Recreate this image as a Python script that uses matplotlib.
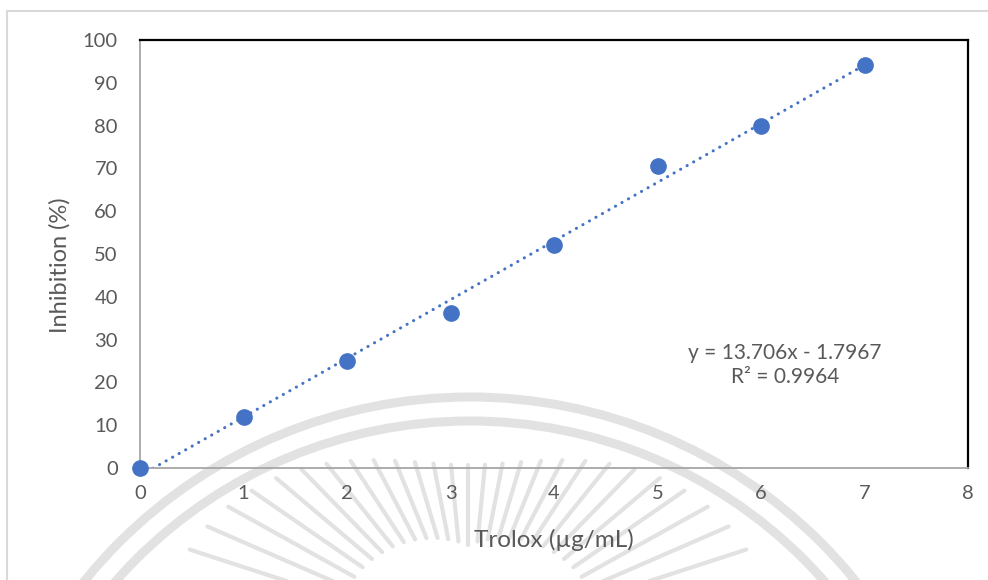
import numpy as np
import matplotlib
matplotlib.use("Agg")
import matplotlib.pyplot as plt
from matplotlib.patches import Arc
from matplotlib.lines import Line2D

# Trolox calibration data
concentration = [0, 1, 2, 3, 4, 5, 6, 7]          # µg/mL
inhibition = [0.0, 11.8, 25.0, 36.3, 52.1, 70.6, 79.9, 94.2]  # %

# Linear trendline coefficients as reported
slope = 13.706
intercept = -1.7967
r_squared = 0.9964

x_ticks = [0, 1, 2, 3, 4, 5, 6, 7, 8]
y_ticks = [0, 10, 20, 30, 40, 50, 60, 70, 80, 90, 100]

BLUE = "#4472C4"
TEXT = "#595959"
FONT = "Lato"

W, H = 988, 580
fig = plt.figure(figsize=(W / 100, H / 100), dpi=100)
fig.patch.set_facecolor("white")

# Faint seal watermark behind the chart (pixel coordinates)
bg = fig.add_axes([0, 0, 1, 1], zorder=0)
bg.set_xlim(0, W)
bg.set_ylim(H, 0)
bg.axis("off")
wm = "#e2e2e2"
for r in (496, 472):
    bg.add_patch(Arc((470, 893), 2 * r, 2 * r, theta1=180, theta2=360,
                     color=wm, lw=6.5))
cx, cy = 468, 640
for ang in np.linspace(18, 162, 27):
    a = np.deg2rad(ang)
    side = abs(np.cos(a))
    r1 = 95 + 40 * side
    r2 = 175 + 130 * side ** 2
    bg.plot([cx + r1 * np.cos(a), cx + r2 * np.cos(a)],
            [cy - r1 * np.sin(a), cy - r2 * np.sin(a)],
            color=wm, lw=3, solid_capstyle="round")

# Outer chart-area border
fig.add_artist(Line2D([7 / W, 7 / W], [0, 1 - 11 / H], transform=fig.transFigure,
                      color="#d9d9d9", lw=1.5))
fig.add_artist(Line2D([7 / W, 1], [1 - 11 / H, 1 - 11 / H], transform=fig.transFigure,
                      color="#d9d9d9", lw=1.5))

ax = fig.add_axes([140 / W, 1 - 468 / H, (968 - 140) / W, (468 - 40) / H], zorder=1)
ax.set_facecolor("none")

# Trendline
xt = np.array([concentration[0], concentration[-1]], dtype=float)
ax.plot(xt, slope * xt + intercept, color=BLUE, lw=2.2,
        linestyle=(0, (0.05, 2.4)), dash_capstyle="round", zorder=2)

# Data points
ax.plot(concentration, inhibition, "o", color=BLUE, ms=11, mec=BLUE, zorder=3,
        clip_on=False)

ax.set_xlim(0, 8)
ax.set_ylim(0, 100)
ax.set_xticks(x_ticks)
ax.set_yticks(y_ticks)
ax.tick_params(length=0, labelsize=14.5, labelcolor=TEXT)
ax.tick_params(axis="y", pad=16)
ax.tick_params(axis="x", pad=12)
for lab in ax.get_xticklabels() + ax.get_yticklabels():
    lab.set_fontfamily(FONT)

for s in ["top", "right"]:
    ax.spines[s].set_color("black")
    ax.spines[s].set_linewidth(1.6)
for s in ["left", "bottom"]:
    ax.spines[s].set_color("#a6a6a6")
    ax.spines[s].set_linewidth(1.3)

ax.set_xlabel("Trolox (µg/mL)", fontsize=17.5, color=TEXT, family=FONT)
ax.set_ylabel("Inhibition (%)", fontsize=17, color=TEXT, family=FONT)
ax.xaxis.set_label_coords(0.4994, -0.168)
ax.xaxis.label.set_va("center")
ax.yaxis.set_label_coords(-0.0966, 0.474)
ax.yaxis.label.set_va("center")

eq = f"y = {slope}x - {abs(intercept)}\nR² = {r_squared}"
ax.text(6.23, 24.0, eq, ha="center", va="center", fontsize=15, color=TEXT,
        family=FONT, linespacing=1.25)

fig.savefig("out.png", dpi=100, facecolor="white")
